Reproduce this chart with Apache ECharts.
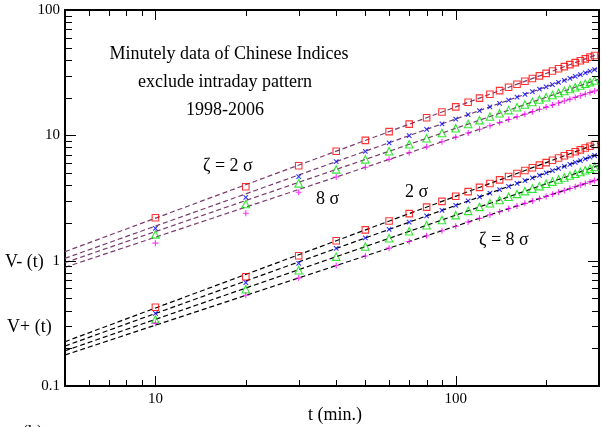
<!DOCTYPE html>
<html><head><meta charset="utf-8">
<script src="https://cdn.jsdelivr.net/npm/echarts@6/dist/echarts.min.js"></script>
<style>html,body{margin:0;padding:0;background:#fff}#c{width:602px;height:427px}</style>
</head><body><div id="c"></div>
<script>
// time lags (minutes)
const times = [10,20,30,40,50,60,70,80,90,100,110,120,130,140,150,160,170,180,190,200,210,220,230,240,250,260,270,280,290];

// V- (t), upper group
const vMinusRed = [2.20,3.89,5.72,7.47,9.11,10.71,12.28,13.82,15.35,16.86,18.34,19.82,21.28,22.72,24.16,25.58,27.00,28.41,29.81,31.19,32.57,33.95,35.31,36.67,38.02,39.37,40.72,42.05,43.39];
const vMinusBlue = [1.81,3.20,4.68,6.17,7.46,8.72,9.95,11.15,12.33,13.49,14.64,15.76,16.88,17.98,19.07,20.15,21.22,22.28,23.34,24.38,25.42,26.45,27.48,28.49,29.50,30.51,31.51,32.50,33.49];
const vMinusGreen = [1.62,2.83,4.14,5.35,6.43,7.47,8.48,9.47,10.43,11.38,12.31,13.22,14.12,15.01,15.89,16.76,17.61,18.47,19.31,20.14,20.96,21.78,22.59,23.40,24.20,25.00,25.79,26.57,27.35];
const vMinusMagenta = [1.38,2.39,3.51,4.65,5.56,6.43,7.27,8.09,8.89,9.67,10.43,11.18,11.92,12.64,13.36,14.06,14.76,15.45,16.13,16.80,17.47,18.13,18.79,19.44,20.08,20.72,21.35,21.98,22.60];

// V+ (t), lower group
const vPlusRed = [0.425,0.745,1.096,1.442,1.760,2.071,2.375,2.676,2.972,3.265,3.554,3.841,4.126,4.409,4.688,4.966,5.242,5.516,5.789,6.059,6.328,6.597,6.863,7.129,7.393,7.658,7.920,8.181,8.441];
const vPlusBlue = [0.380,0.667,0.953,1.252,1.517,1.776,2.028,2.275,2.518,2.757,2.994,3.227,3.457,3.685,3.911,4.134,4.356,4.577,4.796,5.012,5.227,5.441,5.654,5.865,6.075,6.284,6.493,6.699,6.904];
const vPlusGreen = [0.340,0.591,0.838,1.077,1.297,1.509,1.716,1.917,2.113,2.307,2.497,2.685,2.870,3.052,3.232,3.410,3.585,3.760,3.933,4.104,4.274,4.443,4.610,4.775,4.941,5.105,5.267,5.429,5.590];
const vPlusMagenta = [0.316,0.530,0.728,0.914,1.090,1.259,1.421,1.579,1.733,1.884,2.032,2.176,2.318,2.458,2.596,2.731,2.865,2.998,3.129,3.258,3.385,3.512,3.637,3.763,3.885,4.009,4.130,4.249,4.368];

// fitted power-law lines (values at t = 5 and t = 300)
const fitT = [5, 300];
const fitMinusRed = [1.179, 44.7];
const fitMinusBlue = [1.044, 34.5];
const fitMinusGreen = [0.964, 28.1];
const fitMinusMagenta = [0.885, 23.2];
const fitPlusRed = [0.2256, 8.70];
const fitPlusBlue = [0.2085, 7.11];
const fitPlusGreen = [0.191, 5.75];
const fitPlusMagenta = [0.1768, 4.49];

// axis ticks
const xMajorTicks = [10, 100];
const xMinorTicks = [6,7,8,9,20,30,40,50,60,70,80,90,200];
const yMajorTicks = [1, 10];
const yMinorTicks = [0.2,0.3,0.4,0.5,0.6,0.7,0.8,0.9,2,3,4,5,6,7,8,9,20,30,40,50,60,70,80,90];

const FONT = "'Liberation Serif', 'Times New Roman', serif";
const zip = (xs, ys) => xs.map((x, i) => [x, ys[i]]);

function isPow10(v) { const l = Math.log10(v); return Math.abs(l - Math.round(l)) < 1e-6; }
const labelFmt = v => isPow10(v) ? String(+(+v).toPrecision(3)) : '';

function fitLine(name, vals, color) {
  return { type: 'line', name, data: zip(fitT, vals), showSymbol: false, symbol: 'none', silent: true, z: 2,
    lineStyle: { color, width: 1.2, type: [5, 3] } };
}
function scatter(name, vals, symbol, size, color) {
  return { type: 'scatter', name, data: zip(times, vals), symbol, symbolSize: size, z: 3, silent: true,
    itemStyle: { color: 'rgba(0,0,0,0)', borderColor: color, borderWidth: 1.1 } };
}
function tickSeries(vals, isX, len) {
  return { type: 'custom', coordinateSystem: 'cartesian2d', silent: true, clip: false, z: 5,
    data: vals.map(v => isX ? [v, 1] : [5, v]),
    renderItem: (params, api) => {
      const cs = params.coordSys;
      const p = api.coord([api.value(0), api.value(1)]);
      const style = { stroke: '#000', lineWidth: 1 };
      if (isX) {
        const x = Math.round(p[0]) + 0.5;
        return { type: 'group', children: [
          { type: 'line', shape: { x1: x, y1: cs.y + cs.height, x2: x, y2: cs.y + cs.height - len }, style },
          { type: 'line', shape: { x1: x, y1: cs.y, x2: x, y2: cs.y + len }, style } ] };
      }
      const y = Math.round(p[1]) + 0.5;
      return { type: 'group', children: [
        { type: 'line', shape: { x1: cs.x, y1: y, x2: cs.x + len, y2: y }, style },
        { type: 'line', shape: { x1: cs.x + cs.width, y1: y, x2: cs.x + cs.width - len, y2: y }, style } ] };
    } };
}

const PLUS = 'path://M5,0L5,10M0,5L10,5';
const CROSS = 'path://M0,0L10,10M10,0L0,10';
const upperLine = '#7a3b6e';
const lowerLine = '#000000';

const chart = echarts.init(document.getElementById('c'), null, { renderer: 'canvas' });
const axisLineStyle = { color: '#000', width: 2 };
chart.setOption({
  backgroundColor: '#fff',
  animation: false,
  grid: { left: 65, top: 10, width: 538.5, height: 376 },
  xAxis: [
    { type: 'log', logBase: 10, min: 5, max: 300, position: 'bottom',
      axisLine: { lineStyle: axisLineStyle }, axisTick: { show: false }, splitLine: { show: false },
      axisLabel: { formatter: labelFmt, fontFamily: FONT, fontSize: 15, color: '#000', margin: 6 } },
    { type: 'log', logBase: 10, min: 5, max: 300, position: 'top',
      axisLine: { lineStyle: axisLineStyle }, axisTick: { show: false }, splitLine: { show: false }, axisLabel: { show: false } }
  ],
  yAxis: [
    { type: 'log', logBase: 10, min: 0.1, max: 100, position: 'left',
      axisLine: { lineStyle: axisLineStyle }, axisTick: { show: false }, splitLine: { show: false },
      axisLabel: { formatter: labelFmt, fontFamily: FONT, fontSize: 15, color: '#000', margin: 5 } },
    { type: 'log', logBase: 10, min: 0.1, max: 100, position: 'right',
      axisLine: { lineStyle: axisLineStyle }, axisTick: { show: false }, splitLine: { show: false }, axisLabel: { show: false } }
  ],
  series: [
    fitLine('fit V- red', fitMinusRed, upperLine),
    fitLine('fit V- blue', fitMinusBlue, upperLine),
    fitLine('fit V- green', fitMinusGreen, upperLine),
    fitLine('fit V- magenta', fitMinusMagenta, upperLine),
    fitLine('fit V+ red', fitPlusRed, lowerLine),
    fitLine('fit V+ blue', fitPlusBlue, lowerLine),
    fitLine('fit V+ green', fitPlusGreen, lowerLine),
    fitLine('fit V+ magenta', fitPlusMagenta, lowerLine),
    scatter('V- 2σ', vMinusRed, 'rect', 6.5, '#ff0000'),
    scatter('V- blue', vMinusBlue, CROSS, 4.5, '#0000ff'),
    scatter('V- green', vMinusGreen, 'triangle', 7.5, '#00e000'),
    scatter('V- 8σ', vMinusMagenta, PLUS, 6, '#ff00ff'),
    scatter('V+ 2σ', vPlusRed, 'rect', 6.5, '#ff0000'),
    scatter('V+ blue', vPlusBlue, CROSS, 4.5, '#0000ff'),
    scatter('V+ green', vPlusGreen, 'triangle', 7.5, '#00e000'),
    scatter('V+ 8σ', vPlusMagenta, PLUS, 6, '#ff00ff'),
    tickSeries(xMajorTicks, true, 10),
    tickSeries(xMinorTicks, true, 6),
    tickSeries(yMajorTicks, false, 11),
    tickSeries(yMinorTicks, false, 7)
  ],
  graphic: [
    { type: 'text', style: { x: 229, y: 54, text: 'Minutely data of Chinese Indices', font: '18px ' + FONT, fill: '#000', align: 'center', verticalAlign: 'middle' } },
    { type: 'text', style: { x: 225, y: 82, text: 'exclude intraday pattern', font: '18px ' + FONT, fill: '#000', align: 'center', verticalAlign: 'middle' } },
    { type: 'text', style: { x: 225, y: 110, text: '1998-2006', font: '18px ' + FONT, fill: '#000', align: 'center', verticalAlign: 'middle' } },
    { type: 'text', style: { x: 203, y: 166, text: 'ζ = 2 σ', font: '18px ' + FONT, fill: '#000', align: 'left', verticalAlign: 'middle' } },
    { type: 'text', style: { x: 316, y: 199, text: '8 σ', font: '18px ' + FONT, fill: '#000', align: 'left', verticalAlign: 'middle' } },
    { type: 'text', style: { x: 405, y: 192, text: '2 σ', font: '18px ' + FONT, fill: '#000', align: 'left', verticalAlign: 'middle' } },
    { type: 'text', style: { x: 479, y: 240, text: 'ζ = 8 σ', font: '18px ' + FONT, fill: '#000', align: 'left', verticalAlign: 'middle' } },
    { type: 'text', style: { x: 5, y: 262, text: 'V- (t)', font: '18px ' + FONT, fill: '#000', align: 'left', verticalAlign: 'middle' } },
    { type: 'text', style: { x: 7, y: 327, text: 'V+ (t)', font: '18px ' + FONT, fill: '#000', align: 'left', verticalAlign: 'middle' } },
    { type: 'text', style: { x: 335, y: 415, text: 't (min.)', font: '18px ' + FONT, fill: '#000', align: 'center', verticalAlign: 'middle' } },
    { type: 'text', style: { x: 22, y: 424, text: '(b)', font: '18px ' + FONT, fill: '#000', align: 'left', verticalAlign: 'top' } }
  ]
});
</script>
</body></html>
